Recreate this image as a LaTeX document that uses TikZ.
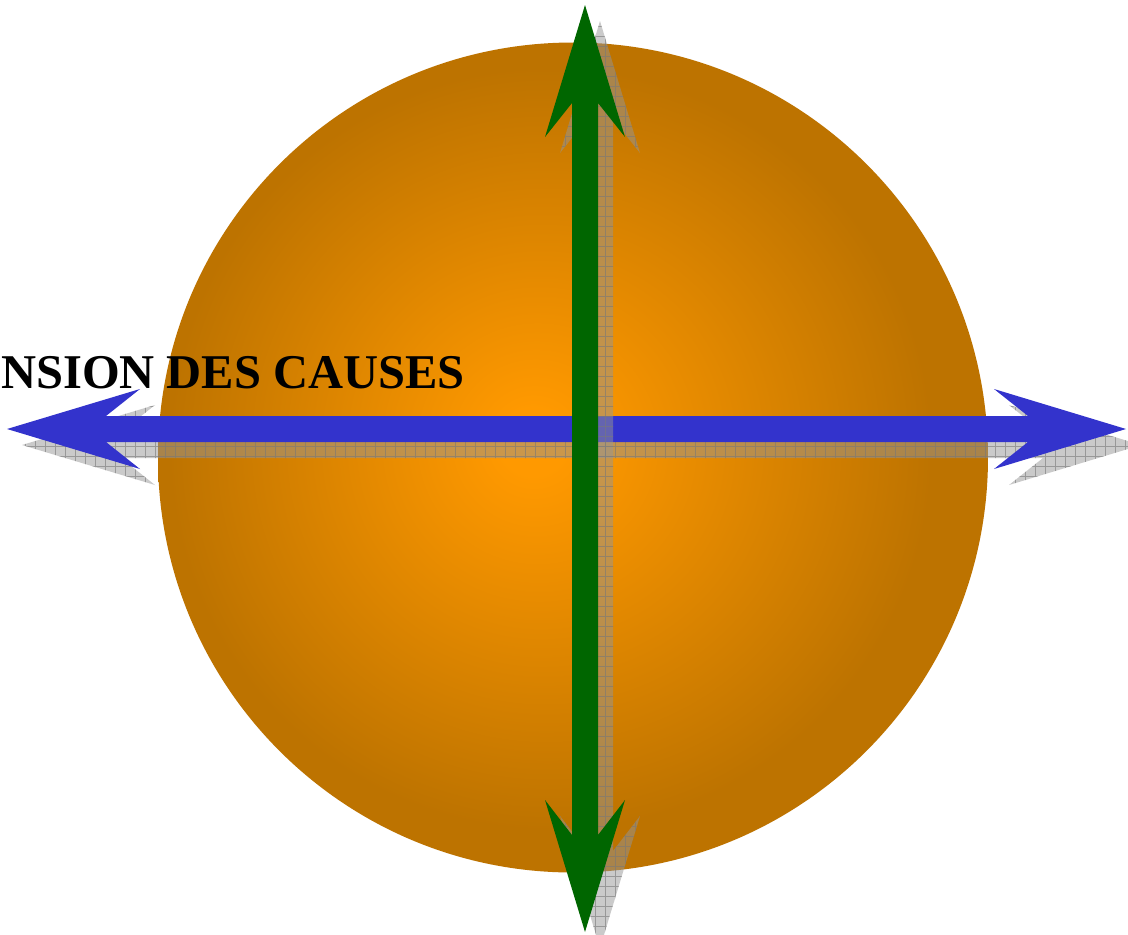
\documentclass[tikz,border=0pt]{standalone}
\usepackage{fontspec}
\setmainfont{Liberation Serif}
\definecolor{sphin}{RGB}{255,153,0}
\definecolor{sphout}{RGB}{189,115,0}
\definecolor{arrgreen}{RGB}{0,102,0}
\definecolor{arrblue}{RGB}{51,51,204}
\definecolor{shadowgray}{RGB}{150,150,150}
\definecolor{gridgray}{RGB}{120,120,120}
\pgfdeclareradialshading{sphereshade}{\pgfpoint{-2.5bp}{1bp}}{color(0bp)=(sphin); color(2bp)=(sphin); color(23bp)=(sphout); color(50bp)=(sphout)}
\newcommand\greenarr[1]{\path[#1] (585,5) -- (625,137) -- (598,103) -- (598,835) -- (625,800) -- (585,932) -- (545,800) -- (572,835) -- (572,103) -- (545,137) -- cycle;}
\newcommand\bluearr[1]{\path[#1] (7,429) -- (140,389) -- (106,416) -- (1028,416) -- (994,389) -- (1126,429) -- (994,469) -- (1028,442) -- (106,442) -- (140,469) -- cycle;}
\newcommand\shadowfill{%
  \fill[shadowgray, opacity=0.5] (-20,-20) rectangle (1160,960);
  \draw[gridgray, line width=0.8pt, opacity=0.6, step=10pt] (-20,-20) grid (1160,960);}
\tikzset{labeltext/.style={font=\bfseries\fontsize{48.5}{50}\selectfont, text=black, inner sep=0pt, anchor=base east}}
\begin{document}
\begin{tikzpicture}[x=1pt,y=-1pt]
\clip (0,0) rectangle (1128,935);
\fill[white] (0,0) rectangle (1128,935);
% sphere
\shade[shading=sphereshade] (573,457.5) circle (415);
% blue arrow shadow
\begin{scope}[shift={(15,16)}]
  \bluearr{clip}
  \shadowfill
\end{scope}
\bluearr{fill=arrblue}
% green arrow shadow
\begin{scope}[shift={(15,16)}]
  \greenarr{clip}
  \shadowfill
\end{scope}
\greenarr{fill=arrgreen}
\node[labeltext] (label) at (465,388) {ENSION DES CAUSES};
\end{tikzpicture}
\end{document}
